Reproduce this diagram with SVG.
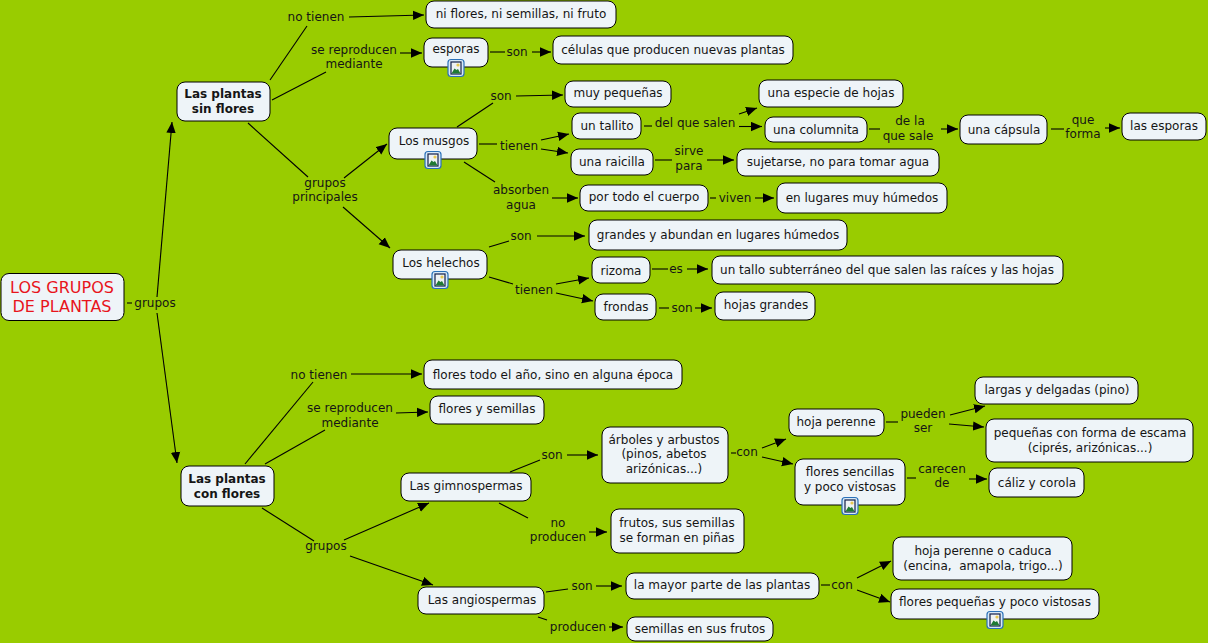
<svg xmlns="http://www.w3.org/2000/svg" xmlns:xlink="http://www.w3.org/1999/xlink" width="1208" height="643" viewBox="0 0 1208 643">
<style>
text{font-family:"DejaVu Sans","Liberation Sans",sans-serif;font-size:12px;fill:#151515;text-anchor:middle}
.n rect{fill:#eef4f8;stroke:#000;stroke-width:1}
.b{font-weight:bold}
.r{font-size:16px;fill:#e8141c}
#connectors line{stroke:#000;stroke-width:1.100}
.a{marker-end:url(#ah)}
</style>
<defs>
<marker id="ah" markerUnits="userSpaceOnUse" markerWidth="12" markerHeight="10" refX="11" refY="5" orient="auto"><path d="M0 0.300L11 5L0 9.700Z" fill="#000"/></marker>
<g id="ic"><rect x="-8" y="-8.500" width="16" height="17" rx="3" fill="#d6e8f8" stroke="#2a70b8" stroke-width="1.200"/><rect x="-5" y="-6" width="10" height="12" fill="#eef2f4" stroke="#14204a" stroke-width="1.200"/><path d="M-4.500 5.500L-1.500 0.500L0.500 2L2 1L4.500 5.500Z" fill="#1f7a33"/><circle cx="2" cy="-3" r="1.600" fill="#e8c850"/></g>
</defs>
<rect width="1208" height="643" fill="#99cc00"/>
<g id="connectors">
<line x1="127" y1="303" x2="132" y2="303"/>
<line x1="157" y1="297" x2="172" y2="122" class="a"/>
<line x1="157" y1="313" x2="177" y2="463" class="a"/>
<line x1="270" y1="80" x2="307" y2="26"/>
<line x1="349" y1="17" x2="424" y2="15" class="a"/>
<line x1="272" y1="100" x2="326" y2="72"/>
<line x1="400" y1="53" x2="422" y2="53" class="a"/>
<line x1="490" y1="52" x2="505" y2="52"/>
<line x1="532" y1="52" x2="551" y2="52" class="a"/>
<line x1="248" y1="123" x2="308" y2="177"/>
<line x1="344" y1="178" x2="387" y2="144" class="a"/>
<line x1="343" y1="207" x2="390" y2="248" class="a"/>
<line x1="457" y1="127" x2="493" y2="103"/>
<line x1="516" y1="96" x2="563" y2="95" class="a"/>
<line x1="479" y1="144" x2="497" y2="144"/>
<line x1="541" y1="140" x2="569" y2="134" class="a"/>
<line x1="541" y1="149" x2="568" y2="153" class="a"/>
<line x1="464" y1="162" x2="495" y2="182"/>
<line x1="552" y1="198" x2="578" y2="198" class="a"/>
<line x1="644" y1="126" x2="652" y2="126"/>
<line x1="739" y1="114" x2="757" y2="108" class="a"/>
<line x1="739" y1="126.500" x2="762" y2="126.500" class="a"/>
<line x1="655" y1="160" x2="672" y2="160"/>
<line x1="707" y1="160" x2="734" y2="160" class="a"/>
<line x1="710" y1="198" x2="716" y2="198"/>
<line x1="755" y1="198" x2="774" y2="198" class="a"/>
<line x1="869" y1="129" x2="880" y2="129"/>
<line x1="941" y1="129" x2="958" y2="129" class="a"/>
<line x1="1051" y1="129" x2="1064" y2="129"/>
<line x1="1105" y1="128" x2="1120" y2="128" class="a"/>
<line x1="489" y1="247" x2="509" y2="241"/>
<line x1="537" y1="236" x2="585" y2="236" class="a"/>
<line x1="489" y1="277" x2="513" y2="284"/>
<line x1="556" y1="284" x2="589" y2="278" class="a"/>
<line x1="556" y1="293" x2="593" y2="301" class="a"/>
<line x1="652" y1="269" x2="668" y2="269"/>
<line x1="687" y1="269" x2="708" y2="269" class="a"/>
<line x1="659" y1="308" x2="669" y2="308"/>
<line x1="695" y1="308" x2="712" y2="308" class="a"/>
<line x1="245" y1="464" x2="313" y2="382"/>
<line x1="351" y1="374" x2="422" y2="374" class="a"/>
<line x1="265" y1="464" x2="325" y2="430"/>
<line x1="396" y1="413" x2="428" y2="412" class="a"/>
<line x1="262" y1="508" x2="314" y2="541"/>
<line x1="344" y1="540" x2="429" y2="503" class="a"/>
<line x1="350" y1="556" x2="433" y2="585" class="a"/>
<line x1="510" y1="472" x2="540" y2="460"/>
<line x1="567" y1="455" x2="598" y2="455" class="a"/>
<line x1="499" y1="503" x2="528" y2="518"/>
<line x1="589" y1="532" x2="607" y2="532" class="a"/>
<line x1="731" y1="453" x2="736" y2="453"/>
<line x1="762" y1="448" x2="786" y2="439" class="a"/>
<line x1="762" y1="457" x2="793" y2="464" class="a"/>
<line x1="886" y1="422" x2="898" y2="422"/>
<line x1="950" y1="415" x2="985" y2="406" class="a"/>
<line x1="949" y1="424" x2="984" y2="427" class="a"/>
<line x1="907" y1="478" x2="916" y2="478"/>
<line x1="969" y1="479" x2="987" y2="479" class="a"/>
<line x1="546" y1="592" x2="568" y2="589"/>
<line x1="596" y1="586" x2="622" y2="586" class="a"/>
<line x1="538" y1="617" x2="547" y2="620"/>
<line x1="609" y1="627" x2="623" y2="627" class="a"/>
<line x1="821" y1="585" x2="830" y2="585"/>
<line x1="857" y1="578" x2="891" y2="561" class="a"/>
<line x1="857" y1="590" x2="890" y2="602" class="a"/>
</g>
<g id="labels">
<text x="316" y="21">no tienen</text>
<text x="354" y="54">se reproducen</text><text x="354" y="68">mediante</text>
<text x="155" y="307">grupos</text>
<text x="517" y="56">son</text>
<text x="501" y="100">son</text>
<text x="519" y="150">tienen</text>
<text x="521" y="194">absorben</text><text x="521" y="209">agua</text>
<text x="325" y="187">grupos</text><text x="325" y="201">principales</text>
<text x="695" y="127">del que salen</text>
<text x="689" y="155">sirve</text><text x="689" y="170">para</text>
<text x="735" y="202">viven</text>
<text x="910" y="125">de la</text><text x="908" y="140">que sale</text>
<text x="1083" y="124">que</text><text x="1083" y="138">forma</text>
<text x="521" y="240">son</text>
<text x="534" y="294">tienen</text>
<text x="676" y="273">es</text>
<text x="682" y="312">son</text>
<text x="319" y="379">no tienen</text>
<text x="350" y="412">se reproducen</text><text x="350" y="427">mediante</text>
<text x="326" y="550">grupos</text>
<text x="552" y="459">son</text>
<text x="558" y="527">no</text><text x="558" y="541">producen</text>
<text x="747" y="456">con</text>
<text x="923" y="418">pueden</text><text x="923" y="432">ser</text>
<text x="942" y="473">carecen</text><text x="942" y="487">de</text>
<text x="582" y="590">son</text>
<text x="578" y="631">producen</text>
<text x="842" y="589">con</text>
</g>
<g id="n1" class="n"><rect x="1" y="273.500" width="123" height="47" rx="8"/><text class="r" x="62" y="293">LOS GRUPOS</text><text class="r" x="62" y="312">DE PLANTAS</text></g>
<g id="n2" class="n"><rect x="177" y="82" width="93" height="39" rx="8"/><text class="b" x="223" y="98">Las plantas</text><text class="b" x="223" y="113">sin flores</text></g>
<g id="n3" class="n"><rect x="426" y="1" width="190" height="27" rx="8"/><text x="521" y="18">ni flores, ni semillas, ni fruto</text></g>
<g id="n4" class="n"><rect x="424" y="38" width="64" height="29" rx="8"/><text x="456" y="53">esporas</text><use xlink:href="#ic" href="#ic" x="456" y="68"/></g>
<g id="n5" class="n"><rect x="553" y="36" width="240" height="28" rx="8"/><text x="673" y="54">células que producen nuevas plantas</text></g>
<g id="n6" class="n"><rect x="389" y="128" width="88" height="31" rx="8"/><text x="434" y="145">Los musgos</text><use xlink:href="#ic" href="#ic" x="433" y="160"/></g>
<g id="n7" class="n"><rect x="565" y="81" width="106" height="26" rx="8"/><text x="618" y="97">muy pequeñas</text></g>
<g id="n8" class="n"><rect x="572" y="113" width="69" height="26" rx="8"/><text x="607" y="130">un tallito</text></g>
<g id="n9" class="n"><rect x="571" y="149" width="82" height="26" rx="8"/><text x="612" y="166">una raicilla</text></g>
<g id="n10" class="n"><rect x="759" y="80" width="144" height="27" rx="8"/><text x="831" y="97">una especie de hojas</text></g>
<g id="n11" class="n"><rect x="765" y="117" width="102" height="25" rx="8"/><text x="816" y="134">una columnita</text></g>
<g id="n12" class="n"><rect x="960" y="115" width="87" height="29" rx="8"/><text x="1004" y="134">una cápsula</text></g>
<g id="n13" class="n"><rect x="1122" y="113" width="84" height="27" rx="8"/><text x="1164" y="130">las esporas</text></g>
<g id="n14" class="n"><rect x="737" y="149" width="202" height="27" rx="8"/><text x="838" y="166">sujetarse, no para tomar agua</text></g>
<g id="n15" class="n"><rect x="580" y="185" width="128" height="26" rx="8"/><text x="644" y="201">por todo el cuerpo</text></g>
<g id="n16" class="n"><rect x="777" y="183" width="170" height="30" rx="8"/><text x="862" y="202">en lugares muy húmedos</text></g>
<g id="n17" class="n"><rect x="393" y="250" width="94" height="29" rx="8"/><text x="441" y="267">Los helechos</text><use xlink:href="#ic" href="#ic" x="440" y="280"/></g>
<g id="n18" class="n"><rect x="589" y="220" width="258" height="30" rx="8"/><text x="718" y="239">grandes y abundan en lugares húmedos</text></g>
<g id="n19" class="n"><rect x="592" y="257" width="58" height="26" rx="8"/><text x="621" y="275">rizoma</text></g>
<g id="n20" class="n"><rect x="712" y="256" width="351" height="28" rx="8"/><text x="887" y="274">un tallo subterráneo del que salen las raíces y las hojas</text></g>
<g id="n21" class="n"><rect x="595" y="294" width="61" height="26" rx="8"/><text x="626" y="311">frondas</text></g>
<g id="n22" class="n"><rect x="715" y="292" width="100" height="28" rx="8"/><text x="766" y="309">hojas grandes</text></g>
<g id="n23" class="n"><rect x="181" y="466" width="93" height="40" rx="8"/><text class="b" x="227" y="483">Las plantas</text><text class="b" x="227" y="498">con flores</text></g>
<g id="n24" class="n"><rect x="424" y="360" width="258" height="29" rx="8"/><text x="553" y="379">flores todo el año, sino en alguna época</text></g>
<g id="n25" class="n"><rect x="430" y="396" width="114" height="28" rx="8"/><text x="487" y="413">flores y semillas</text></g>
<g id="n26" class="n"><rect x="401" y="473" width="130" height="28" rx="8"/><text x="466" y="490">Las gimnospermas</text></g>
<g id="n27" class="n"><rect x="602" y="427" width="126" height="56" rx="8"/><text x="664" y="444">árboles y arbustos</text><text x="664" y="458">(pinos, abetos</text><text x="664" y="473">arizónicas...)</text></g>
<g id="n28" class="n"><rect x="789" y="409" width="95" height="27" rx="8"/><text x="836" y="426">hoja perenne</text></g>
<g id="n29" class="n"><rect x="795" y="459" width="110" height="46" rx="8"/><text x="850" y="476">flores sencillas</text><text x="850" y="491">y poco vistosas</text><use xlink:href="#ic" href="#ic" x="850" y="506"/></g>
<g id="n30" class="n"><rect x="975" y="377" width="163" height="27" rx="8"/><text x="1057" y="394">largas y delgadas (pino)</text></g>
<g id="n31" class="n"><rect x="986" y="419" width="207" height="43" rx="8"/><text x="1090" y="437">pequeñas con forma de escama</text><text x="1090" y="452">(ciprés, arizónicas...)</text></g>
<g id="n32" class="n"><rect x="989" y="468" width="95" height="29" rx="8"/><text x="1037" y="487">cáliz y corola</text></g>
<g id="n33" class="n"><rect x="611" y="509" width="133" height="44" rx="8"/><text x="677" y="527">frutos, sus semillas</text><text x="677" y="542">se forman en piñas</text></g>
<g id="n34" class="n"><rect x="418" y="587" width="126" height="27" rx="8"/><text x="482" y="604">Las angiospermas</text></g>
<g id="n35" class="n"><rect x="626" y="573" width="193" height="26" rx="8"/><text x="722" y="589">la mayor parte de las plantas</text></g>
<g id="n36" class="n"><rect x="627" y="617" width="146" height="24" rx="8"/><text x="700" y="633">semillas en sus frutos</text></g>
<g id="n37" class="n"><rect x="893" y="537" width="179" height="43" rx="8"/><text x="983" y="555">hoja perenne o caduca</text><text x="983" y="570" xml:space="preserve">(encina,  amapola, trigo...)</text></g>
<g id="n38" class="n"><rect x="891" y="589" width="208" height="30" rx="8"/><text x="995" y="606">flores pequeñas y poco vistosas</text><use xlink:href="#ic" href="#ic" x="995" y="620"/></g>
</svg>
